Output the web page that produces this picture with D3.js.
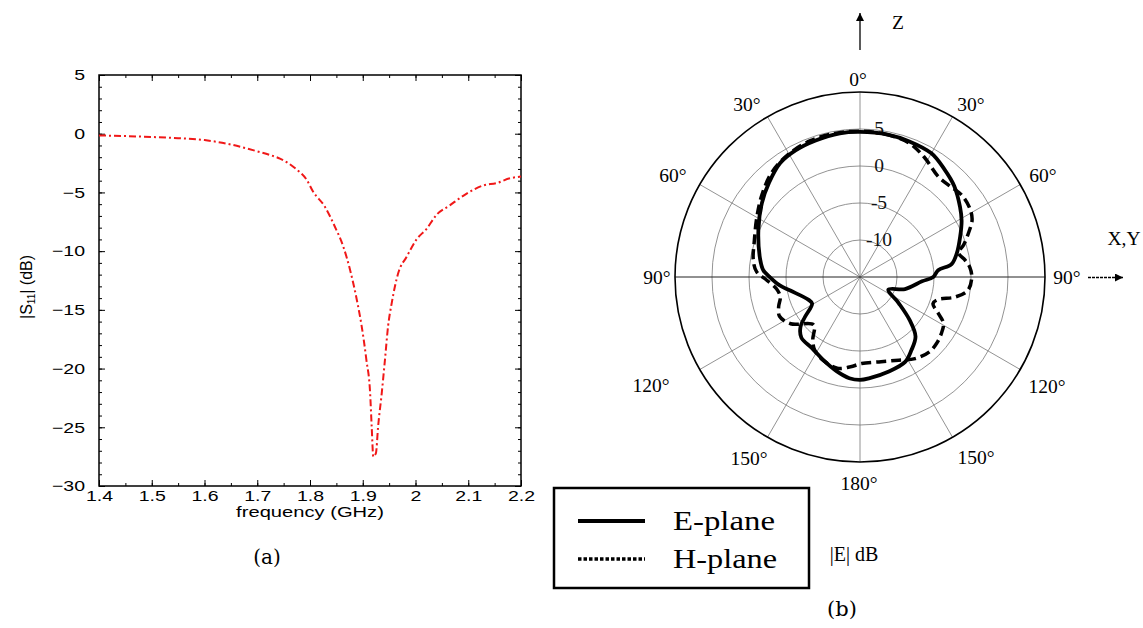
<!DOCTYPE html>
<html>
<head>
<meta charset="utf-8">
<script src="https://cdn.jsdelivr.net/npm/d3@7"></script>
<style>
  html, body { margin: 0; padding: 0; background: #fff; }
  svg { display: block; }
</style>
</head>
<body>
<script>
// ---------- Data: (a) |S11| vs frequency ----------
const freqGHz = [1.40,1.45,1.50,1.55,1.60,1.65,1.70,1.724,1.743,1.772,1.794,1.806,1.828,1.847,1.863,1.876,1.889,1.898,1.907,1.914,1.917,1.920,1.925,1.929,1.936,1.942,1.948,1.955,1.967,1.983,2.002,2.021,2.040,2.065,2.097,2.129,2.154,2.179,2.20];
const s11dB   = [-0.15,-0.2,-0.28,-0.38,-0.54,-0.92,-1.5,-1.81,-2.12,-2.95,-3.94,-4.94,-6.2,-7.9,-9.6,-11.6,-14.2,-16.4,-19.3,-22.1,-25,-27.5,-27.2,-25,-22.1,-19.3,-16.4,-14.4,-11.9,-10.5,-9.0,-8.1,-6.9,-6.1,-5.1,-4.4,-4.2,-3.8,-3.65];
const xTicks = [1.4,1.5,1.6,1.7,1.8,1.9,2.0,2.1,2.2];
const yTicks = [5,0,-5,-10,-15,-20,-25,-30];

// ---------- Data: (b) radiation pattern (angle in degrees clockwise from Z, |E| dB) ----------
const eAngles = [0,11,20,30,38,46,55,61,68,76,82,85,90,94,105,114,124,131,137,145,152,163,175,180,186,194,204,214,224,230,234,241,246,259,264,270,274,280,295,307,316,325,333,342,352];
const eDb     = [4.6,4.6,4.5,4.3,3.5,2.7,1.5,0.7,-0.4,-1.5,-2.5,-4.4,-5.1,-6.6,-8.7,-10.8,-8.7,-6.1,-4.0,-2.9,-2.0,-1.65,-1.25,-1.1,-1.25,-1.9,-2.75,-3.4,-3.6,-4.5,-5.8,-7.6,-7.4,-5.4,-4.1,-2.8,-1.9,-1.3,0.15,1.6,2.7,3.8,4.2,4.4,4.6];
const hAngles = [0,10,20,28,38,45,51,58,63,68,73,76,81,85,90,97,102,106,110,115,119,125,131,137,146,155,166,179,186,194,204,212,217,224,236,244,250,256,262,268,273,279,289,300,310,320,330,340,350];
const hDb     = [4.7,4.6,4.3,3.4,2.2,2.3,2.65,2.5,2.0,0.8,-0.4,-1.3,-0.6,-0.1,0.1,-0.3,-1.9,-4.0,-4.5,-3.3,-2.1,-1.6,-1.3,-1.2,-1.7,-2.6,-3.2,-3.3,-2.8,-2.3,-2.7,-3.4,-4.4,-6.0,-3.7,-2.9,-3.3,-3.9,-3.6,-2.4,-1.0,-0.4,0.1,1.1,2.3,3.5,4.2,4.6,4.7];
const ringValues = [-10,-5,0,5];
const ringLabels = ["-10","-5","0","5"];
const spokeAngles = [0,30,60,90,120,150,180,210,240,270,300,330];
const angleLabels = ["0°","30°","60°","90°","120°","150°","180°","150°","120°","90°","60°","30°"];
// label centre offsets from the polar centre (text layout only)
const angleLabelDx = [-2,111,183,207,187,116,-1,-111,-209,-203,-187,-113];
const angleLabelDy = [-198,-173,-102,0,109,180,206,181,108,0,-102,-173];
const legendNames = ["E-plane","H-plane"];

const svg = d3.select("body").append("svg").attr("width",1143).attr("height",628);

// ================= (a) =================
const L = {left:99, right:521, top:75, bottom:486};
const x = d3.scaleLinear().domain([1.4,2.2]).range([L.left,L.right]);
const y = d3.scaleLinear().domain([-30,5]).range([L.bottom,L.top]);
const fmt = d3.format("~g");
const ga = svg.append("g");
const sansFont = "Liberation Sans, Arial, sans-serif";
const SX = 1.3; // horizontal stretch of the original's sans text

function styleAxis(g, showText, padX){
  g.select(".domain").remove();
  g.selectAll(".tick line").attr("stroke","#000").attr("stroke-width",1);
  const t = g.selectAll(".tick text");
  if(!showText){ t.remove(); return; }
  t.attr("font-family",sansFont).attr("font-size",15).attr("fill","#000")
   .attr("transform",`scale(${SX},1)`);
  if(padX!==undefined) t.attr("x", padX/SX);
}
const minorX = d3.range(1.4,2.2001,0.05);
const minorY = d3.range(-30,5.001,1);
// minor ticks
ga.append("g").attr("transform",`translate(0,${L.bottom})`).call(d3.axisBottom(x).tickValues(minorX).tickSize(-3).tickFormat("")).call(g=>styleAxis(g,false));
ga.append("g").attr("transform",`translate(0,${L.top})`).call(d3.axisTop(x).tickValues(minorX).tickSize(-3).tickFormat("")).call(g=>styleAxis(g,false));
ga.append("g").attr("transform",`translate(${L.left},0)`).call(d3.axisLeft(y).tickValues(minorY).tickSize(-3).tickFormat("")).call(g=>styleAxis(g,false));
ga.append("g").attr("transform",`translate(${L.right},0)`).call(d3.axisRight(y).tickValues(minorY).tickSize(-3).tickFormat("")).call(g=>styleAxis(g,false));
// major ticks
ga.append("g").attr("transform",`translate(0,${L.bottom})`).call(d3.axisBottom(x).tickValues(xTicks).tickSize(-6).tickPadding(4).tickFormat(fmt)).call(g=>styleAxis(g,true));
ga.append("g").attr("transform",`translate(0,${L.top})`).call(d3.axisTop(x).tickValues(xTicks).tickSize(-6).tickFormat("")).call(g=>styleAxis(g,false));
ga.append("g").attr("transform",`translate(${L.left},0)`).call(d3.axisLeft(y).tickValues(yTicks).tickSize(-6).tickFormat(fmt)).call(g=>styleAxis(g,true,-14));
ga.append("g").attr("transform",`translate(${L.right},0)`).call(d3.axisRight(y).tickValues(yTicks).tickSize(-6).tickFormat("")).call(g=>styleAxis(g,false));
ga.append("rect").attr("x",L.left).attr("y",L.top).attr("width",L.right-L.left).attr("height",L.bottom-L.top)
  .attr("fill","none").attr("stroke","#000").attr("stroke-width",1.5);

const s11Data = freqGHz.map((f,i)=>({f, v:s11dB[i]}));
ga.append("path").datum(s11Data)
  .attr("fill","none").attr("stroke","#f01818").attr("stroke-width",2)
  .attr("stroke-dasharray","7,3,2,3")
  .attr("d", d3.line().x(d=>x(d.f)).y(d=>y(d.v)).curve(d3.curveMonotoneX));

ga.append("text").attr("transform",`translate(${(L.left+L.right)/2},517) scale(${SX},1)`).attr("text-anchor","middle")
  .attr("font-family",sansFont).attr("font-size",15.5).text("frequency (GHz)");
const yl = ga.append("text").attr("transform","translate(32,287) rotate(-90)").attr("text-anchor","middle")
  .attr("font-family",sansFont).attr("font-size",16);
yl.append("tspan").text("|S");
yl.append("tspan").attr("font-size",10).attr("dy",3).text("11");
yl.append("tspan").attr("dy",-3).text("| (dB)");
ga.append("text").attr("x",267).attr("y",564).attr("text-anchor","middle")
  .attr("font-family","DejaVu Serif, serif").attr("font-size",20).text("(a)");

// ================= (b) =================
const cx = 860, cy = 277;
const r = d3.scaleLinear().domain([-15,10]).range([0,185]);
const gb = svg.append("g").attr("transform",`translate(${cx},${cy})`);
const serif = "Liberation Serif, Times New Roman, serif";
const rad = a => a*Math.PI/180;

// rings
gb.selectAll("circle.ring").data(ringValues).enter().append("circle")
  .attr("r",d=>r(d)).attr("fill","none").attr("stroke","#777").attr("stroke-width",0.8);
// spokes
gb.selectAll("line.spoke").data(spokeAngles.filter(a=>a%180!==90)).enter().append("line")
  .attr("x1",0).attr("y1",0)
  .attr("x2",a=>r(10)*Math.sin(rad(a))).attr("y2",a=>-r(10)*Math.cos(rad(a)))
  .attr("stroke","#777").attr("stroke-width",0.8);
gb.append("line").attr("x1",-r(10)).attr("x2",r(10)).attr("y1",0).attr("y2",0)
  .attr("stroke","#222").attr("stroke-width",1);
// outer circle
gb.append("circle").attr("r",r(10)).attr("fill","none").attr("stroke","#000").attr("stroke-width",1.6);

// ring labels
gb.selectAll("text.rl").data(ringValues).enter().append("text")
  .attr("x",19).attr("y",d=>-r(d)+6).attr("text-anchor","middle")
  .attr("font-family",serif).attr("font-size",19.5).attr("fill","#111")
  .text((d,i)=>ringLabels[i]);

// angle labels
gb.selectAll("text.al").data(spokeAngles).enter().append("text")
  .attr("font-family",serif).attr("font-size",19.5)
  .attr("text-anchor","middle").attr("dominant-baseline","central")
  .attr("x",(d,i)=>angleLabelDx[i]).attr("y",(d,i)=>angleLabelDy[i])
  .text((d,i)=>angleLabels[i]);

// pattern curves
const radial = d3.lineRadial().angle(d=>rad(d.a)).radius(d=>r(d.v)).curve(d3.curveCatmullRomClosed.alpha(0.5));
const eData = eAngles.map((a,i)=>({a, v:eDb[i]}));
const hData = hAngles.map((a,i)=>({a, v:hDb[i]}));
gb.append("path").datum(hData).attr("d",radial).attr("fill","none").attr("stroke","#000")
  .attr("stroke-width",3.5).attr("stroke-dasharray","10,5");
gb.append("path").datum(eData).attr("d",radial).attr("fill","none").attr("stroke","#000")
  .attr("stroke-width",3.8);

// Z arrow
svg.append("defs").append("marker").attr("id","ah").attr("viewBox","0 0 10 10").attr("refX",10).attr("refY",5)
  .attr("markerWidth",15).attr("markerHeight",8).attr("markerUnits","userSpaceOnUse").attr("orient","auto")
  .append("path").attr("d","M0,0 L10,5 L0,10 Z").attr("fill","#000");
svg.append("line").attr("x1",cx).attr("y1",50).attr("x2",cx).attr("y2",13)
  .attr("stroke","#000").attr("stroke-width",1.3).attr("marker-end","url(#ah)");
svg.append("text").attr("x",898).attr("y",29).attr("text-anchor","middle").attr("font-family",serif).attr("font-size",19.5).text("Z");
// X,Y arrow
svg.append("line").attr("x1",1088).attr("y1",cy+0.5).attr("x2",1123).attr("y2",cy+0.5)
  .attr("stroke","#000").attr("stroke-width",1.3).attr("stroke-dasharray","3,1").attr("marker-end","url(#ah)");
svg.append("text").attr("x",1124).attr("y",245).attr("text-anchor","middle").attr("font-family",serif).attr("font-size",19.5).text("X,Y");

// legend
const lg = svg.append("g");
lg.append("rect").attr("x",554).attr("y",488).attr("width",255).attr("height",100)
  .attr("fill","none").attr("stroke","#000").attr("stroke-width",2.5);
const legY = [521,559];
legendNames.forEach((n,i)=>{
  lg.append("line").attr("x1",578).attr("x2",645).attr("y1",legY[i]).attr("y2",legY[i])
    .attr("stroke","#000").attr("stroke-width",i===0?4:3.5).attr("stroke-dasharray",i===0?null:"3.5,2");
  lg.append("text").attr("x",673).attr("y",legY[i]+9).attr("font-family",serif).attr("font-size",27)
    .attr("textLength",i===0?102:104).attr("lengthAdjust","spacingAndGlyphs").text(n);
});
svg.append("text").attr("x",854).attr("y",561).attr("text-anchor","middle").attr("font-family",serif).attr("font-size",20).text("|E| dB");
svg.append("text").attr("x",842).attr("y",616).attr("text-anchor","middle")
  .attr("font-family","DejaVu Serif, serif").attr("font-size",21).text("(b)");
</script>
</body>
</html>
